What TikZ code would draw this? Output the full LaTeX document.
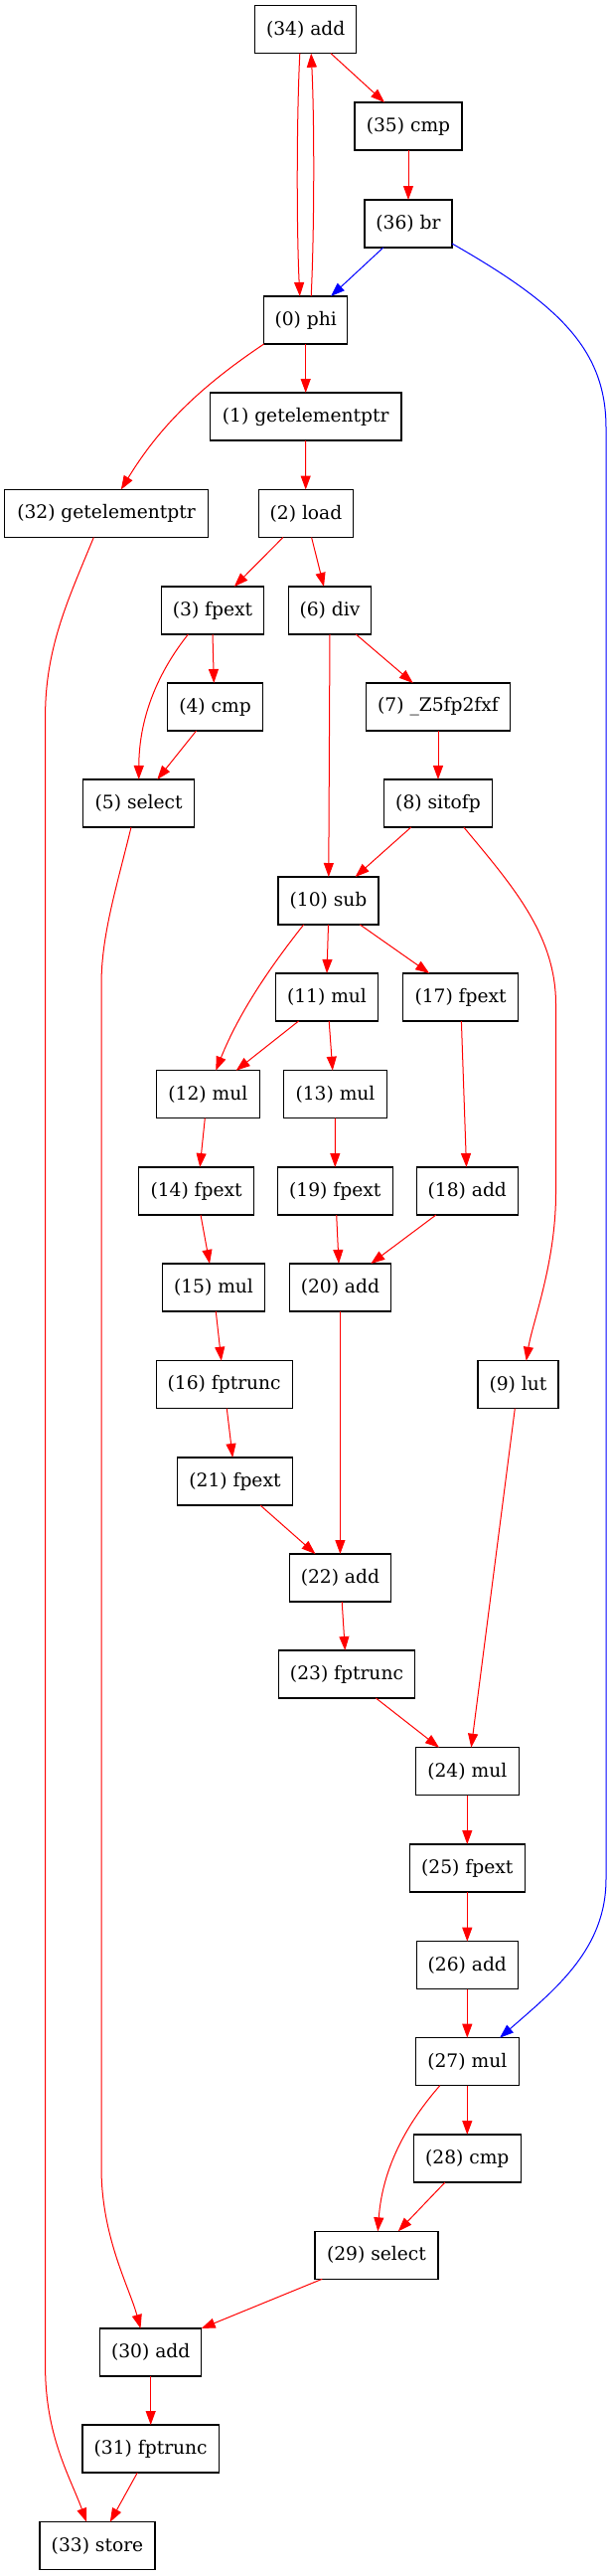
\documentclass[tikz,border=0pt]{standalone}
\usepackage{fontspec}
\setmainfont{DejaVu Serif}
\usetikzlibrary{arrows.meta,calc}
\tikzset{
  box/.style={draw=black, line width=0.9pt, rectangle, minimum height=36pt, minimum width={#1*0.75pt}, inner xsep=2pt, inner ysep=0pt, outer sep=0pt, font=\fontsize{14pt}{16pt}\selectfont},
  e/.style={draw=red, line width=0.75pt, -{Triangle[length=10.5pt,width=7.5pt]}},
  b/.style={draw=blue, line width=0.75pt, -{Triangle[length=10.5pt,width=7.5pt]}}
}
\begin{document}
\begin{tikzpicture}[x=0.75pt,y=-0.75pt]
\useasboundingbox (0,0) rectangle (611,2591);
% nodes
\node[box=102]   (n34) at (307.7,29.7)  {(34) add};
\node[box=108]   (n35) at (411,127)     {(35) cmp};
\node[box=88]    (n36) at (411,225)     {(36) br};
\node[box=84]    (n0)  at (307.7,322)   {(0) phi};
\node[box=192.5] (n1)  at (307.7,419)   {(1) getelementptr};
\node[box=205]   (n32) at (107,516.5)   {(32) getelementptr};
\node[box=95.5]  (n2)  at (308,516.5)   {(2) load};
\node[box=103.7] (n3)  at (214,614)     {(3) fpext};
\node[box=83.7]  (n6)  at (332,614)     {(6) div};
\node[box=96]    (n4)  at (216.5,711)   {(4) cmp};
\node[box=145.4] (n7)  at (441,711)     {(7) \_Z5fp2fxf};
\node[box=112]   (n5)  at (139.7,808)   {(5) select};
\node[box=109]   (n8)  at (441,808)     {(8) sitofp};
\node[box=101]   (n10) at (330.5,906)   {(10) sub};
\node[box=103.7] (n11) at (329,1003)    {(11) mul};
\node[box=115.5] (n17) at (463.6,1003)  {(17) fpext};
\node[box=103.7] (n12) at (209.4,1100.7) {(12) mul};
\node[box=103.7] (n13) at (337.5,1100.7) {(13) mul};
\node[box=115.5] (n14) at (197.6,1198)  {(14) fpext};
\node[box=116]   (n19) at (337.3,1198)  {(19) fpext};
\node[box=102]   (n18) at (470.3,1198)  {(18) add};
\node[box=103.7] (n15) at (215,1295)    {(15) mul};
\node[box=102.5] (n20) at (342.4,1295)  {(20) add};
\node[box=137]   (n16) at (225.7,1392.7) {(16) fptrunc};
\node[box=81]    (n9)  at (521.5,1392.7) {(9) lut};
\node[box=115.5] (n21) at (236.5,1490)  {(21) fpext};
\node[box=102.5] (n22) at (342.4,1587)  {(22) add};
\node[box=137]   (n23) at (349,1684)    {(23) fptrunc};
\node[box=103.7] (n24) at (470.3,1781.7) {(24) mul};
\node[box=116]   (n25) at (470.3,1879)  {(25) fpext};
\node[box=102]   (n26) at (470.3,1976.7) {(26) add};
\node[box=103.7] (n27) at (470.3,2073.7) {(27) mul};
\node[box=107.7] (n28) at (470.3,2171)  {(28) cmp};
\node[box=124]   (n29) at (379,2268.3)  {(29) select};
\node[box=102]   (n30) at (151.7,2366)  {(30) add};
\node[box=137.5] (n31) at (151.7,2463)  {(31) fptrunc};
\node[box=116]   (n33) at (98,2560.7)   {(33) store};
% edges
\draw[e] ($(n34.south)+(-5.9,0)$) .. controls (298.5,120) and (298.5,230) .. ($(n0.north)+(-5.9,0)$);
\draw[e] ($(n0.north)+(5.5,0)$) .. controls (316.5,230) and (316.5,120) .. ($(n34.south)+(5.5,0)$);
\draw[e] ($(n34.south)+(25.3,0)$) -- ($(n35.north)+(-24,0)$);
\draw[e] (n35.south) -- (n36.north);
\draw[b] ($(n36.south)+(-25.2,0)$) -- ($(n0.north)+(25.3,0)$);
\draw[b] ($(n36.east)+(0,20)$) .. controls (560,305) and (610,350) .. (610,430) -- (610,1890) .. controls (610,1960) and (560,2000) .. ($(n27.north)+(32.7,0)$);
\draw[e] (n0.south) -- (n1.north);
\draw[e] (n0.south west) .. controls (200,390) and (160,430) .. ($(n32.north)+(14.8,0)$);
\draw[e] (n1.south) -- ($(n2.north)+(-0.3,0)$);
\draw[e] ($(n2.south)+(-23.1,0)$) -- ($(n3.north)+(21.8,0)$);
\draw[e] ($(n2.south)+(5.6,0)$) -- ($(n6.north)+(-6,0)$);
\draw[e] (n3.south) -- ($(n4.north)+(-1.2,0)$);
\draw[e] ($(n3.south)+(-24.6,0)$) .. controls (160,675) and (140,720) .. (n5.north);
\draw[e] ($(n4.south)+(-18.9,0)$) -- ($(n5.north)+(18.6,0)$);
\draw[e] (n6.south) -- ($(n10.north)+(0.3,0)$);
\draw[e] ($(n6.south)+(26.3,0)$) -- ($(n7.north)+(-25.3,0)$);
\draw[e] (n7.south) -- (n8.north);
\draw[e] ($(n8.south)+(-27.2,0)$) -- ($(n10.north)+(27.1,0)$);
\draw[e] ($(n8.south)+(25.8,0)$) .. controls (515,890) and (559.5,940) .. (559.5,1010) -- (559.5,1200) .. controls (559.5,1270) and (536,1330) .. ($(n9.north)+(8.2,0)$);
\draw[e] ($(n32.south)+(-12.7,0)$) .. controls (70,600) and (45.6,650) .. (45.6,720) -- (45.6,2380) .. controls (45.6,2450) and (70,2490) .. ($(n33.north)+(-10.8,0)$);
\draw[e] ($(n5.south)+(-7.7,0)$) .. controls (118,890) and (102,940) .. (102,990) -- (102,2180) .. controls (102,2250) and (130,2300) .. ($(n30.north)+(-10.2,0)$);
\draw[e] (n10.south) -- (n11.north);
\draw[e] ($(n10.south)+(31.8,0)$) -- ($(n17.north)+(-31.4,0)$);
\draw[e] ($(n10.south)+(-24.8,0)$) .. controls (270,975) and (240,1020) .. ($(n12.north)+(7.9,0)$);
\draw[e] ($(n11.south)+(-28.4,0)$) -- ($(n12.north)+(28.3,0)$);
\draw[e] ($(n11.south)+(2.2,0)$) -- ($(n13.north)+(-2.7,0)$);
\draw[e] ($(n17.south)+(0.8,0)$) -- ($(n18.north)+(-0.8,0)$);
\draw[e] ($(n12.south)+(-3.1,0)$) -- ($(n14.north)+(3.6,0)$);
\draw[e] ($(n13.south)+(-0.2,0)$) -- (n19.north);
\draw[e] ($(n14.south)+(4.4,0)$) -- ($(n15.north)+(-4,0)$);
\draw[e] ($(n19.south)+(1.4,0)$) -- ($(n20.north)+(-1.4,0)$);
\draw[e] ($(n18.south)+(-31.4,0)$) -- ($(n20.north)+(30.9,0)$);
\draw[e] ($(n15.south)+(2.3,0)$) -- ($(n16.north)+(-2.9,0)$);
\draw[e] (n20.south) -- (n22.north);
\draw[e] ($(n16.south)+(2.6,0)$) -- ($(n21.north)+(-2.3,0)$);
\draw[e] ($(n21.south)+(25.5,0)$) -- ($(n22.north)+(-24.9,0)$);
\draw[e] ($(n22.south)+(1.8,0)$) -- ($(n23.north)+(-1.7,0)$);
\draw[e] ($(n23.south)+(29.4,0)$) -- ($(n24.north)+(-28.3,0)$);
\draw[e] ($(n9.south)+(-3.2,0)$) -- ($(n24.north)+(4,0)$);
\draw[e] (n24.south) -- (n25.north);
\draw[e] (n25.south) -- (n26.north);
\draw[e] (n26.south) -- (n27.north);
\draw[e] (n27.south) -- (n28.north);
\draw[e] ($(n27.south)+(-27.5,0)$) .. controls (410,2135) and (385,2180) .. ($(n29.north)+(1.3,0)$);
\draw[e] ($(n28.south)+(-22.3,0)$) -- ($(n29.north)+(21.8,0)$);
\draw[e] ($(n29.south)+(-54.8,0)$) -- (n30.north east);
\draw[e] (n30.south) -- (n31.north);
\draw[e] ($(n31.south)+(-13.4,0)$) -- ($(n33.north)+(12.8,0)$);
\end{tikzpicture}
\end{document}
